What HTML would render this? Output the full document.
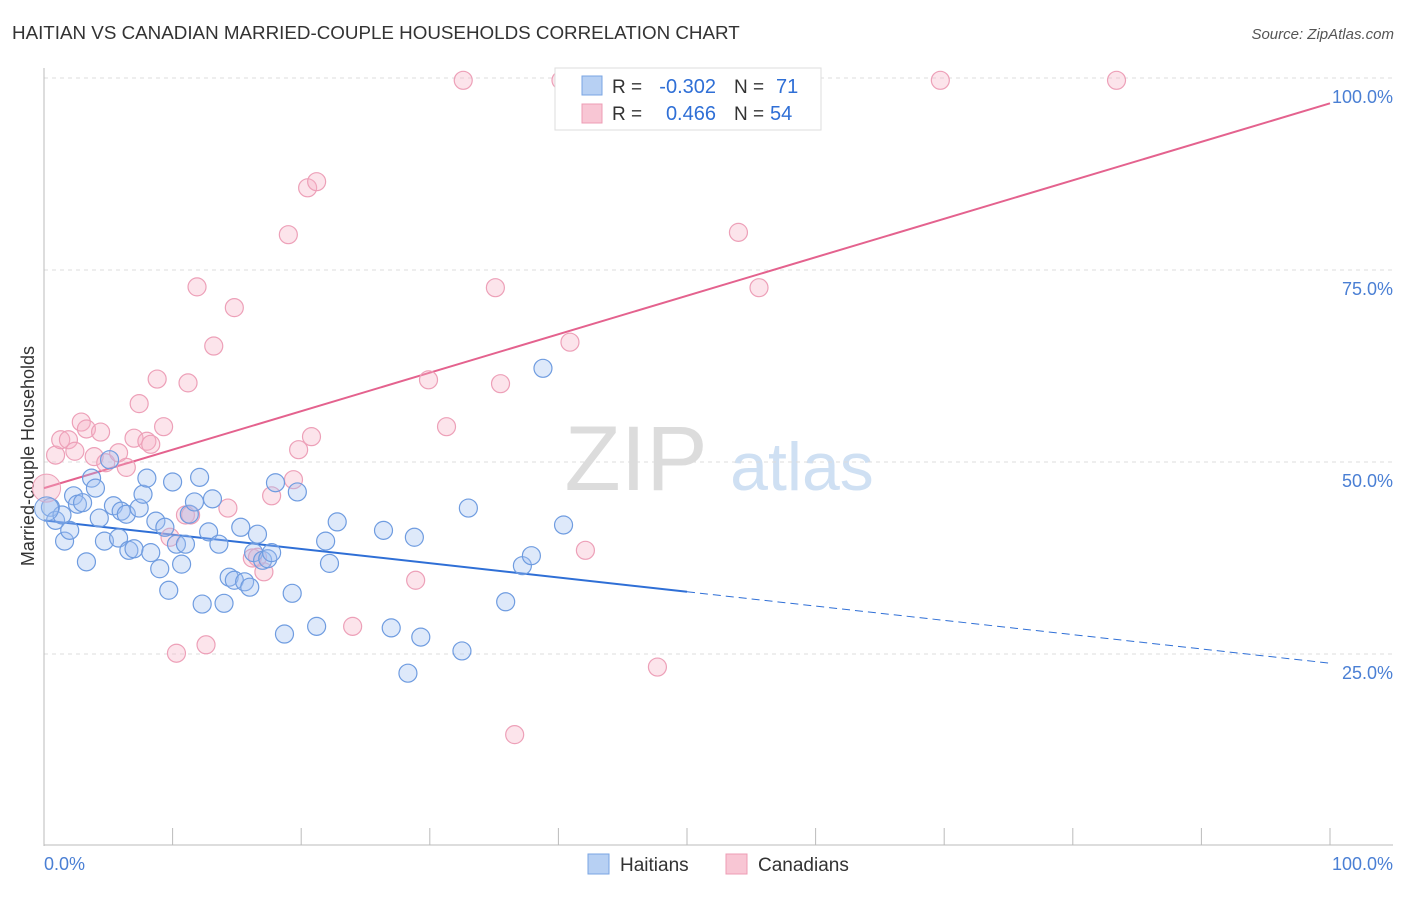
<!DOCTYPE html>
<html><head><meta charset="utf-8"><style>
body{margin:0;background:#fff;font-family:"Liberation Sans",sans-serif;}
svg text{font-family:"Liberation Sans",sans-serif;}
</style></head><body>
<svg id="chart" width="1406" height="892" xmlns="http://www.w3.org/2000/svg">
<text x="12" y="39" font-size="18.8" fill="#333">HAITIAN VS CANADIAN MARRIED-COUPLE HOUSEHOLDS CORRELATION CHART</text>
<text x="1394" y="39" font-size="15" fill="#555" text-anchor="end" font-style="italic">Source: ZipAtlas.com</text>
<text transform="translate(34,456) rotate(-90)" font-size="18" fill="#333" text-anchor="middle">Married-couple Households</text>
<g><text x="636" y="490" font-size="92" fill="#dcdcdc" font-family="Liberation Serif" text-anchor="middle">ZIP</text><text x="802" y="490" font-size="68" fill="#cfe0f3" text-anchor="middle">atlas</text></g>
<g id="grid"></g><g id="axes"></g><g id="lines"></g><g id="pts"></g>
<g>
<rect x="555" y="68" width="266" height="62" fill="#fff" stroke="#ddd"/>
<rect x="582" y="76" width="20" height="19" fill="#b7d0f3" stroke="#7aa5e3"/>
<rect x="582" y="104" width="20" height="19" fill="#f8c6d4" stroke="#ee9cb4"/>
<text x="612" y="93" font-size="19" fill="#333">R =</text>
<text x="716" y="93" font-size="20" fill="#2f6fd6" text-anchor="end">-0.302</text>
<text x="734" y="93" font-size="19" fill="#333">N =</text>
<text x="776" y="93" font-size="20" fill="#2f6fd6">71</text>
<text x="612" y="120" font-size="19" fill="#333">R =</text>
<text x="716" y="120" font-size="20" fill="#2f6fd6" text-anchor="end">0.466</text>
<text x="734" y="120" font-size="19" fill="#333">N =</text>
<text x="770" y="120" font-size="20" fill="#2f6fd6">54</text>
</g>
<g>
<rect x="588" y="854" width="21" height="20" fill="#b7d0f3" stroke="#7aa5e3"/>
<text x="620" y="871" font-size="19" fill="#333">Haitians</text>
<rect x="726" y="854" width="21" height="20" fill="#f8c6d4" stroke="#ee9cb4"/>
<text x="758" y="871" font-size="19" fill="#333">Canadians</text>
</g>
</svg>
<script>
const blueX=[0.5,0.9,1.4,1.6,2.0,2.3,2.6,3.0,3.3,3.7,4.0,4.3,4.7,5.1,5.4,5.8,6.0,6.4,6.6,7.0,7.4,7.7,8.0,8.3,8.7,9.0,9.4,9.7,10.0,10.3,10.7,11.0,11.3,11.7,12.1,12.3,12.8,13.1,13.6,14.0,14.4,14.8,15.3,15.6,16.0,16.3,16.6,17.0,17.4,17.7,18.0,18.7,19.3,19.7,21.2,21.9,22.2,22.8,26.4,27.0,28.8,28.3,29.3,32.5,33.0,35.9,37.2,37.9,38.8,40.4];
const blueY=[44.1,42.4,43.1,39.7,41.1,45.6,44.5,44.7,37.0,47.9,46.6,42.7,39.7,50.3,44.3,40.1,43.6,43.2,38.5,38.7,44.0,45.8,47.9,38.2,42.3,36.1,41.5,33.3,47.4,39.3,36.7,39.3,43.2,44.8,48.0,31.5,40.9,45.2,39.3,31.6,35.0,34.6,41.5,34.4,33.7,38.2,40.6,37.2,37.4,38.2,47.3,27.6,32.9,46.1,28.6,39.7,36.8,42.2,41.1,28.4,40.2,22.5,27.2,25.4,44.0,31.8,36.5,37.8,62.2,41.8];
const pinkX=[0.9,1.3,1.9,2.4,2.9,3.3,3.9,4.4,4.8,5.8,6.4,7.0,7.4,8.0,8.3,8.8,9.3,10.3,11.0,11.2,11.9,12.6,13.2,14.3,14.8,16.2,17.1,17.7,19.0,19.4,19.8,20.5,20.8,21.2,24.0,28.9,29.9,31.3,32.6,35.1,35.5,36.6,40.2,40.9,42.1,47.7,54.0,55.6,69.7,83.4,9.8,11.4,16.6];
const pinkY=[50.9,52.9,52.9,51.4,55.2,54.3,50.7,53.9,49.9,51.2,49.3,53.1,57.6,52.7,52.3,60.8,54.6,25.1,43.1,60.3,72.8,26.2,65.1,44.0,70.1,37.5,35.7,45.6,79.6,47.7,51.6,85.7,53.3,86.5,28.6,34.6,60.7,54.6,99.7,72.7,60.2,14.5,99.7,65.6,38.5,23.3,79.9,72.7,99.7,99.7,40.2,43.1,37.6];
const blueLine=[42.4,23.8]; const pinkLine=[46.6,96.7];
const yTicks=[25,50,75,100]; const xTickLabels=["0.0%","100.0%"];
const sx=v=>44+v*12.86, sy=v=>846-v*7.68;
const NS="http://www.w3.org/2000/svg";
function mk(tag,at,parent){const e=document.createElementNS(NS,tag);for(const k in at)e.setAttribute(k,at[k]);document.getElementById(parent).appendChild(e);return e;}
yTicks.forEach(t=>{
 const g=mk('line',{x1:44,x2:1393,y1:sy(t),y2:sy(t),stroke:'#ddd','stroke-dasharray':'4,4'},'grid');
 
 
 const l=mk('text',{x:1393,y:sy(t)+25,'font-size':18,fill:'#4a7fd4','text-anchor':'end'},'grid');
 l.textContent=t.toFixed(1)+'%';
 
 
});
mk('line',{x1:44,x2:44,y1:68,y2:846,stroke:'#bbb'},'axes');
mk('line',{x1:44,x2:1393,y1:845,y2:845,stroke:'#bbb'},'axes');
for(let i=0;i<=10;i++){mk('line',{x1:sx(i*10),x2:sx(i*10),y1:828,y2:845,stroke:'#bbb'},'axes');}
const xl0=mk('text',{x:44,y:870,'font-size':18,fill:'#4a7fd4'},'axes');xl0.textContent=xTickLabels[0];


const xl1=mk('text',{x:1393,y:870,'font-size':18,fill:'#4a7fd4','text-anchor':'end'},'axes');xl1.textContent=xTickLabels[1];


const bl=v=>blueLine[0]+(blueLine[1]-blueLine[0])*v/100, pl=v=>pinkLine[0]+(pinkLine[1]-pinkLine[0])*v/100;
const r1=mk('line',{x1:sx(0),y1:sy(bl(0)),x2:sx(50),y2:sy(bl(50)),stroke:'#2f6fd6','stroke-width':2},'lines');


const r2=mk('line',{x1:sx(50),y1:sy(bl(50)),x2:sx(100),y2:sy(bl(100)),stroke:'#2f6fd6','stroke-width':1,'stroke-dasharray':'8,5'},'lines');


const r3=mk('line',{x1:sx(0),y1:sy(pl(0)),x2:sx(100),y2:sy(pl(100)),stroke:'#e4628e','stroke-width':2},'lines');


pinkX.forEach((x,i)=>{const c=mk('circle',{cx:sx(x),cy:sy(pinkY[i]),r:9,fill:'rgba(246,178,198,0.35)',stroke:'#eda0b8','stroke-width':1.2},'pts');
 
 });
blueX.forEach((x,i)=>{const c=mk('circle',{cx:sx(x),cy:sy(blueY[i]),r:9,fill:'rgba(160,192,240,0.35)',stroke:'#6f9ce0','stroke-width':1.2},'pts');
 
 });
const big1=mk('circle',{cx:sx(0.2),cy:sy(46.6),r:14,fill:'rgba(246,178,198,0.4)',stroke:'#eda0b8'},'pts');


const big2=mk('circle',{cx:sx(0.2),cy:sy(43.9),r:12,fill:'rgba(160,192,240,0.4)',stroke:'#6f9ce0'},'pts');


</script>
</body></html>
